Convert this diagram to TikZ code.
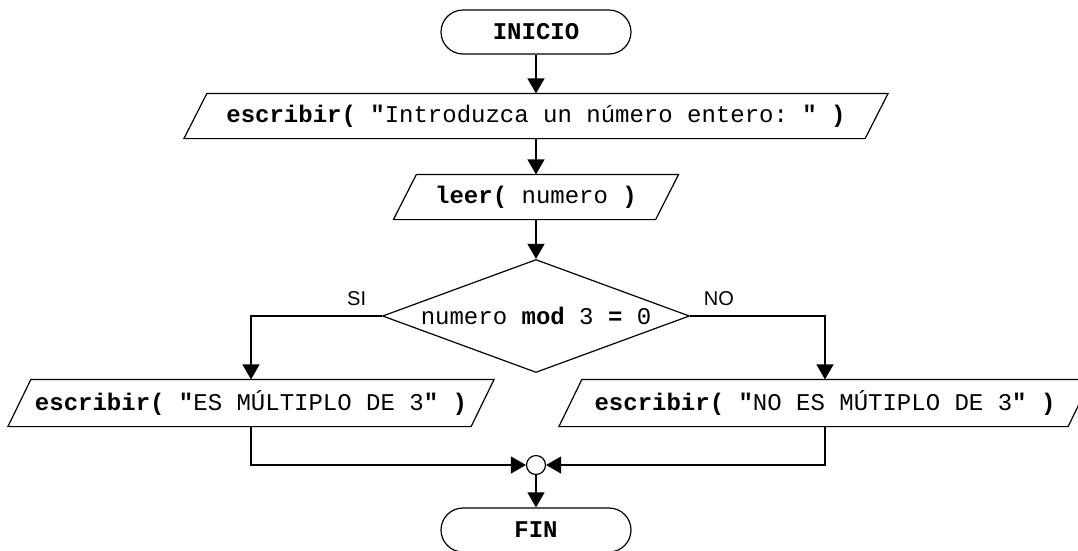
\documentclass[tikz,border=0pt]{standalone}
\usepackage{fontspec}
\setmainfont{Liberation Sans}
\setsansfont{Liberation Sans}
\setmonofont{Liberation Mono}
\usetikzlibrary{arrows.meta,shapes.geometric}
\frenchspacing
\newcommand\paral[1]{\draw ([xshift=-11.5pt]#1.south west) -- ([xshift=11.5pt]#1.north west) -- ([xshift=11.5pt]#1.north east) -- ([xshift=-11.5pt]#1.south east) -- cycle;}
\begin{document}
\begin{tikzpicture}[x=1pt,y=-1pt, line width=1.2pt,
  arr/.style={-{Triangle[length=15pt,width=17pt]}},
  txt/.style={font=\fontsize{24}{28}\selectfont\ttfamily},
  term/.style={draw, rounded corners=22pt, minimum width=190pt, minimum height=44pt, inner sep=0pt, txt},
  iobox/.style={inner sep=0pt, minimum height=44pt, txt},
  dec/.style={draw, diamond, shape aspect=2.72, inner sep=0pt, minimum width=307pt, minimum height=113pt, txt},
  junc/.style={draw, circle, inner sep=0pt, minimum size=19pt},
  lbl/.style={font=\fontsize{20}{22}\selectfont\sffamily}]
\clip (0,0) rectangle (1078,550);
\node[term] (ini) at (536,32) {\bfseries INICIO};
\node[iobox, minimum width=680pt] (p1) at (536,116) {\textbf{escribir(} \textbf{"}Introduzca un número entero: \textbf{"} \textbf{)}};
\paral{p1}
\node[iobox, minimum width=261pt] (p2) at (536,197) {\textbf{leer(} numero \textbf{)}};
\paral{p2}
\node[dec] (d) at (536,316) {numero \textbf{mod} 3 \textbf{=} 0};
\node[iobox, minimum width=462pt, minimum height=46pt] (p3) at (251,403) {\textbf{escribir(} \textbf{"}ES MÚLTIPLO DE 3\textbf{"} \textbf{)}};
\paral{p3}
\node[iobox, minimum width=508pt, minimum height=46pt] (p4) at (825,403) {\textbf{escribir(} \textbf{"}NO ES MÚTIPLO DE 3\textbf{"} \textbf{)}};
\paral{p4}
\node[junc] (j) at (536,465) {};
\node[term] (fin) at (536,530) {\bfseries FIN};
\node[lbl, anchor=base east] (si) at (370,305) {SI};
\node[lbl, anchor=base west] (no) at (700,305) {NO};
\draw[arr] (ini.south) -- (p1.north);
\draw[arr] (p1.south) -- (p2.north);
\draw[arr] (p2.south) -- (d.north);
\draw[arr] (d.west) -| (p3.north);
\draw[arr] (d.east) -| (p4.north);
\draw[arr] (p3.south) |- (j.west);
\draw[arr] (p4.south) |- (j.east);
\draw[arr] (j.south) -- (fin.north);
\end{tikzpicture}
\end{document}
